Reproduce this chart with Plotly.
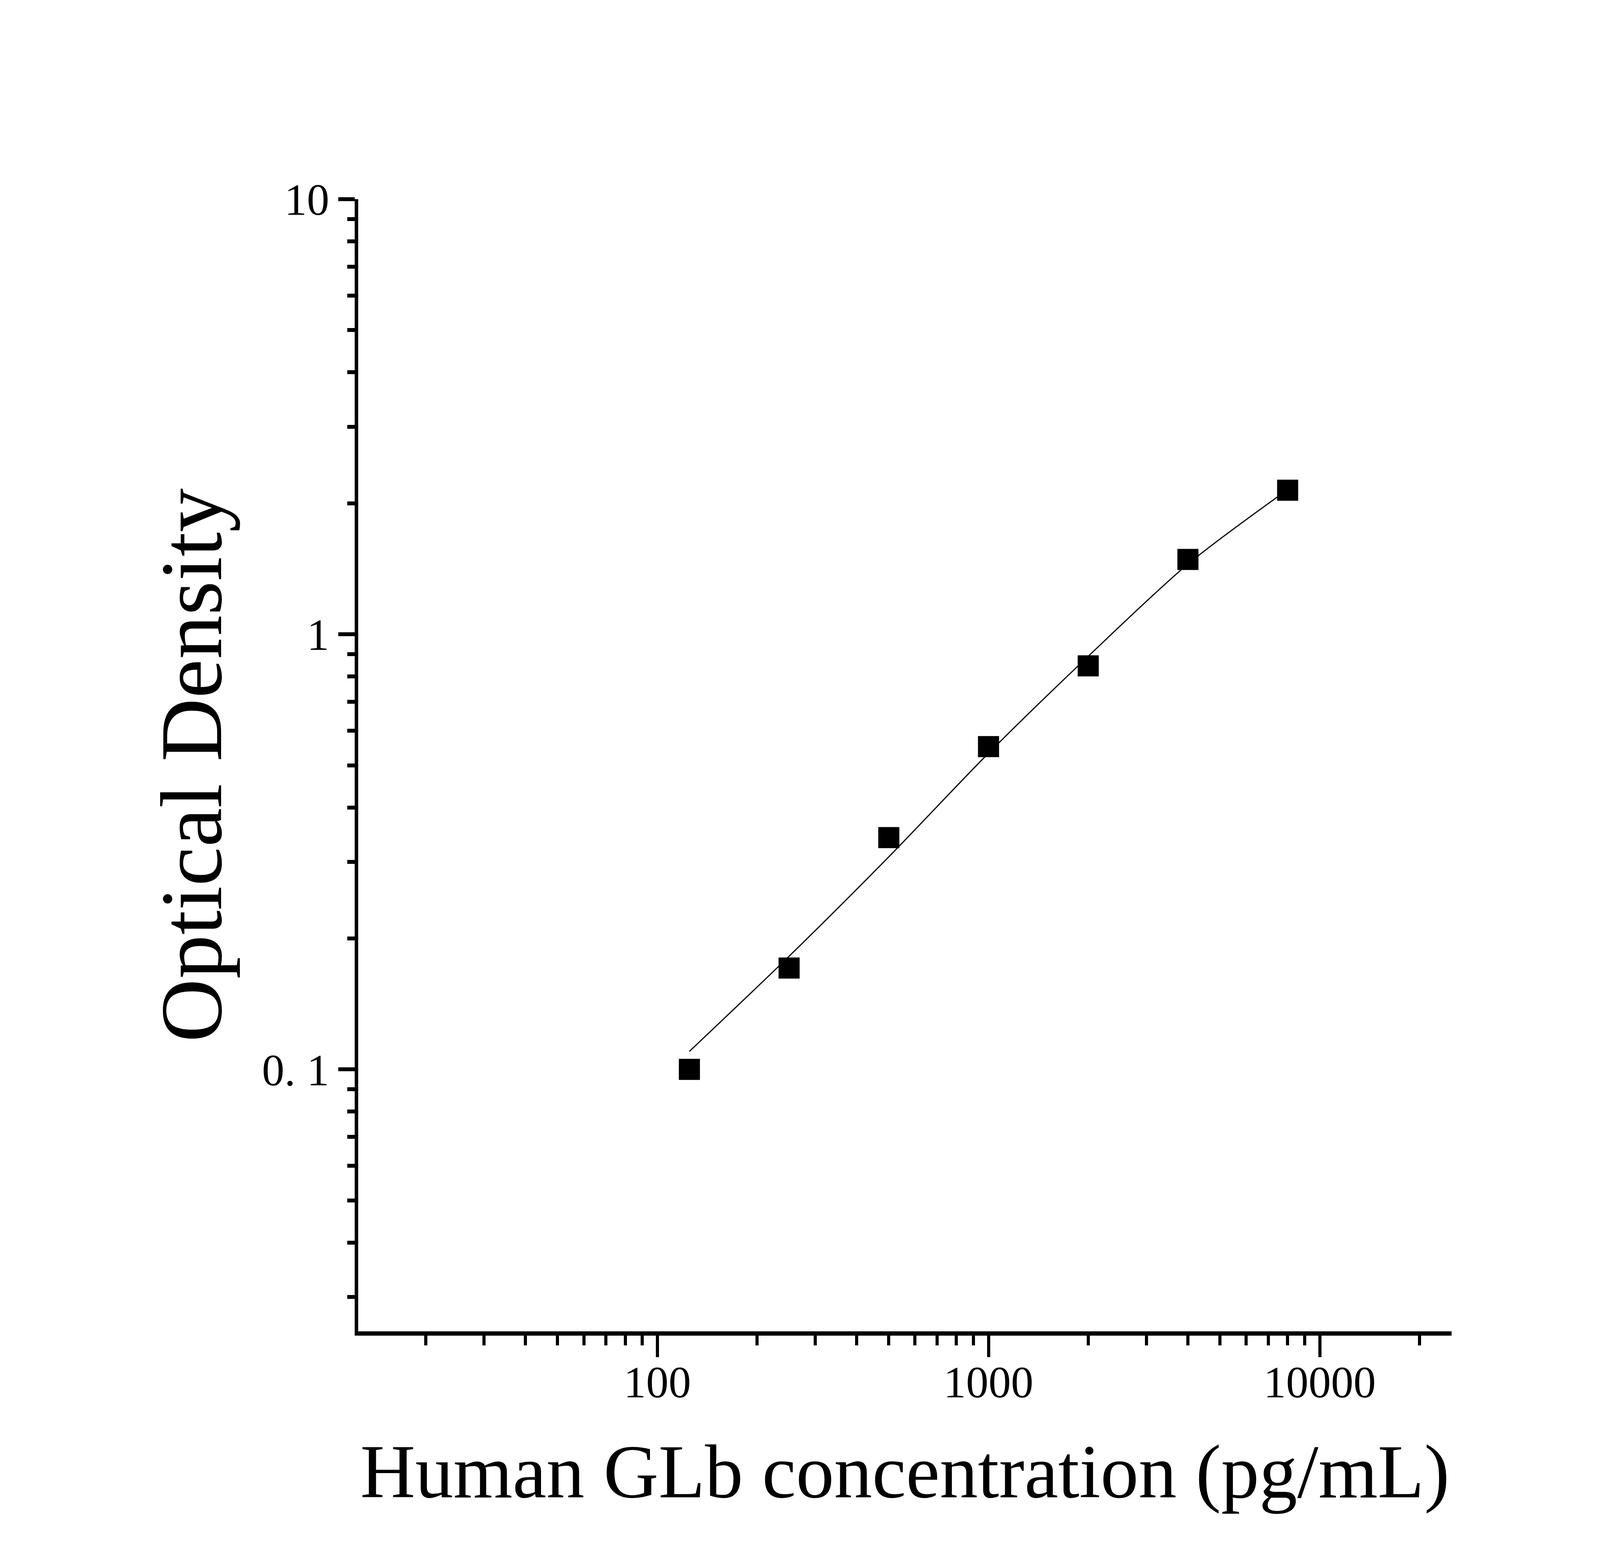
import plotly.graph_objects as go

# standard points (pg/mL vs OD)
conc = [125, 250, 500, 1000, 2000, 4000, 8000]
od = [0.100, 0.171, 0.341, 0.552, 0.846, 1.486, 2.143]

# fitted curve, read at the standard concentrations
curve_conc = [125, 250, 500, 1000, 2000, 4000, 8000]
curve_od = [0.110, 0.182, 0.308, 0.533, 0.890, 1.450, 2.150]

x_major = [100, 1000, 10000]
x_major_text = ["100", "1000", "10000"]
x_minor = [20, 30, 40, 50, 60, 70, 80, 90,
           200, 300, 400, 500, 600, 700, 800, 900,
           2000, 3000, 4000, 5000, 6000, 7000, 8000, 9000, 20000]

y_major = [0.1, 1, 10]
y_major_text = ["0. 1", "1", "10"]
y_minor = [0.03, 0.04, 0.05, 0.06, 0.07, 0.08, 0.09,
           0.2, 0.3, 0.4, 0.5, 0.6, 0.7, 0.8, 0.9,
           2, 3, 4, 5, 6, 7, 8, 9]

# the browser window is capped at 4096 px wide, so the page is laid out
# at 4096x4015 with the reference's proportions kept
W, H = 4096, 4015

fig = go.Figure()

fig.add_trace(go.Scatter(
    x=curve_conc, y=curve_od,
    mode="lines",
    line=dict(color="black", width=3, shape="spline", smoothing=0.8),
    showlegend=False
))

fig.add_trace(go.Scatter(
    x=conc, y=od,
    mode="markers",
    marker=dict(symbol="square", size=54, color="black"),
    showlegend=False
))

serif = "Liberation Serif"

fig.update_layout(
    width=W, height=H,
    margin=dict(l=917, r=380, t=510, b=606),
    paper_bgcolor="white", plot_bgcolor="white",
    font=dict(family=serif, color="black"),
    xaxis=dict(
        type="log", range=[1.097, 4.398],
        showgrid=False, zeroline=False,
        showline=True, linecolor="black", linewidth=11,
        ticks="outside", ticklen=55, tickwidth=8, tickcolor="black",
        tickvals=x_major, ticktext=x_major_text,
        tickfont=dict(family=serif, size=115),
        ticklabelstandoff=-35,
        minor=dict(tickvals=x_minor, ticks="outside", ticklen=25,
                   tickwidth=8, tickcolor="black", showgrid=False),
        title=dict(text="Human GLb concentration (pg/mL)",
                   font=dict(family=serif, size=195), standoff=100),
    ),
    yaxis=dict(
        type="log", range=[-1.602, 1.0],
        showgrid=False, zeroline=False,
        showline=True, linecolor="black", linewidth=9,
        ticks="outside", ticklen=42, tickwidth=10, tickcolor="black",
        tickvals=y_major, ticktext=y_major_text,
        tickfont=dict(family=serif, size=115),
        minor=dict(tickvals=y_minor, ticks="outside", ticklen=19,
                   tickwidth=10, tickcolor="black", showgrid=False),
        title=dict(text="Optical Density",
                   font=dict(family=serif, size=225), standoff=30),
    ),
)

fig.write_html("out.html", config={"displayModeBar": False},
               post_script="document.body.style.margin='0';")
